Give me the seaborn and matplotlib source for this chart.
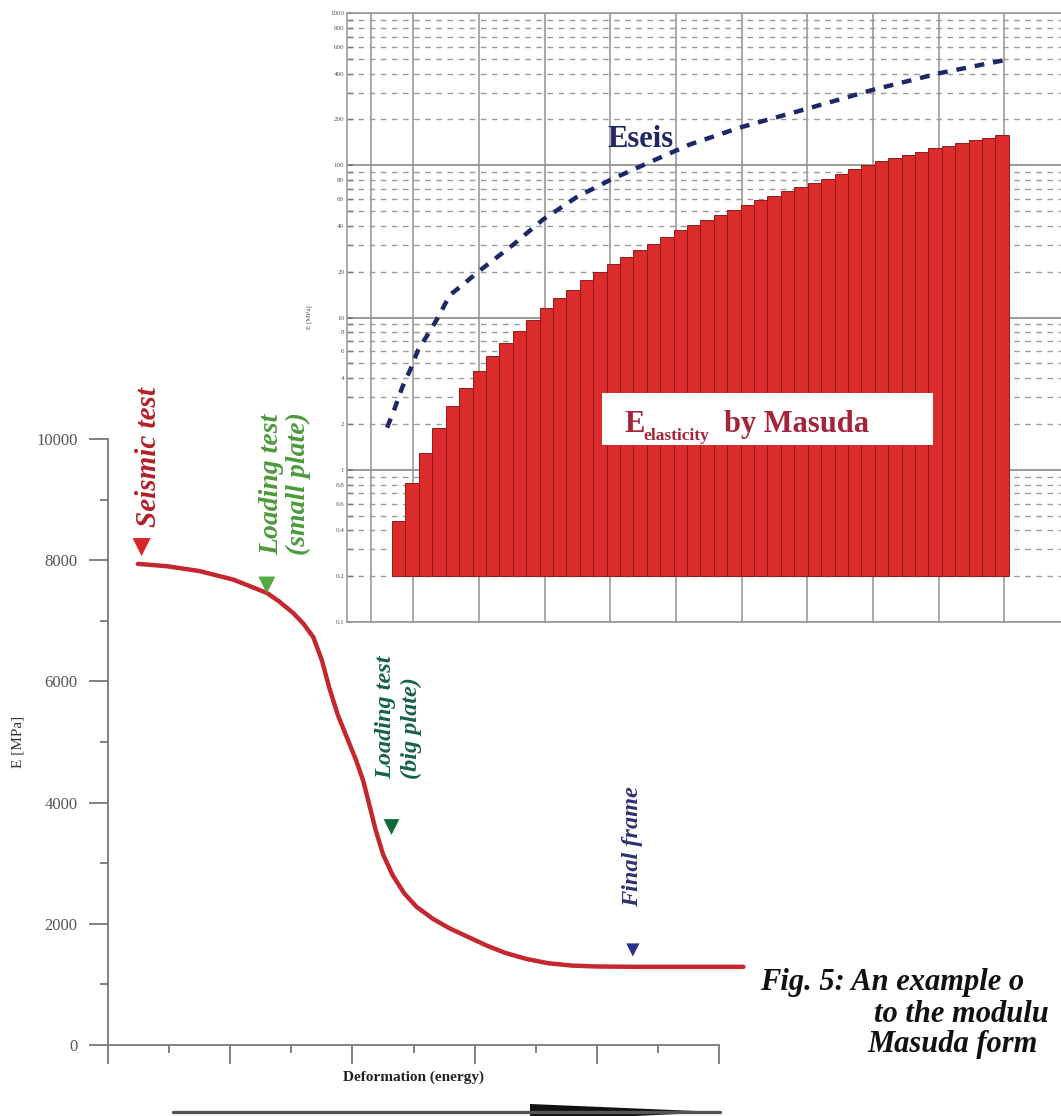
import numpy as np
import matplotlib
matplotlib.use("Agg")
import matplotlib.pyplot as plt
from matplotlib.patches import Polygon, Rectangle
from matplotlib.ticker import FixedLocator, FuncFormatter, NullFormatter
import seaborn as sns

W, H = 1061, 1116

# main curve: modulus E [MPa] against deformation (energy)
curve_x = [0.49, 0.97, 1.5, 2.05, 2.6, 2.8, 3.03, 3.2, 3.36, 3.5, 3.62, 3.76,
           3.92, 4.06, 4.18, 4.28, 4.38, 4.5, 4.66, 4.85, 5.05, 5.32, 5.6, 5.9,
           6.2, 6.5, 6.85, 7.2, 7.6, 8.02, 8.67, 10.4]
curve_e = [7940, 7900, 7820, 7680, 7460, 7320, 7130, 6950, 6730, 6350, 5900, 5450,
           5050, 4700, 4350, 3950, 3550, 3150, 2800, 2500, 2280, 2080, 1920, 1780,
           1640, 1520, 1420, 1350, 1310, 1295, 1290, 1290]

# test markers on the curve
test_names = ["Seismic test", "Loading test\n(small plate)",
              "Loading test\n(big plate)", "Final frame"]
test_x = [0.55, 2.6, 4.64, 8.59]
test_e = [8216, 7590, 3597, 1568]

# inset: E by Masuda (bars) and Eseis (dashed), log scale
masuda_e = [0.46, 0.82, 1.29, 1.89, 2.64, 3.46, 4.48, 5.62, 6.85, 8.2,
            9.56, 11.6, 13.5, 15.2, 17.5, 19.8, 22.3, 24.8, 27.6, 30.2,
            33.6, 37.3, 40.3, 43.5, 47, 51, 55, 59, 63, 68,
            72, 77, 81, 88, 95, 101, 107, 112, 117, 123,
            129, 134, 140, 146, 152, 158]
eseis_x = [-0.87, -0.28, 0.25, 0.84, 1.44, 2.11, 2.93, 3.8, 4.8, 6.06, 8.52, 10.76,
           13.3, 15.76, 18.74, 21.72, 25.45, 30.45, 35.37, 40.36, 45.06]
eseis_e = [1.89, 2.56, 3.46, 4.5, 6.1, 7.6, 10, 14, 16.5, 20.4, 30, 44,
           62, 80, 105, 137, 177, 235, 313, 403, 488]

caption = ["Fig. 5: An example o", "to the modulu", "Masuda form"]

sns.set_theme(style="ticks")
plt.rcParams["font.family"] = ["Liberation Serif", "DejaVu Serif"]


def fx(px):
    return px / W


def fy(py):
    return 1 - py / H


fig = plt.figure(figsize=(W / 100, H / 100), dpi=100)
fig.patch.set_facecolor("white")

# ---- main axes ----
ax = fig.add_axes([fx(108), fy(1045), (719 - 108) / W, (1045 - 439) / H])
ax.patch.set_alpha(0)
sns.lineplot(x=curve_x, y=curve_e, ax=ax, color="#c4272d", lw=3.2, sort=False)
ax.lines[-1].set_clip_on(False)
ax.lines[-1].set_solid_joinstyle("round")
ax.lines[-1].set_solid_capstyle("round")

df_tests = {"x": test_x, "e": test_e, "name": test_names}
pal = dict(zip(test_names, ["#d9262b", "#5aa845", "#0e6b3a", "#27308a"]))
sizes = dict(zip(test_names, [170, 150, 130, 90]))
sns.scatterplot(data=df_tests, x="x", y="e", hue="name", size="name",
                palette=pal, sizes=sizes, marker="v", linewidth=0,
                legend=False, ax=ax, clip_on=False, zorder=5)

text_style = dict(rotation=90, ha="center", va="bottom", fontweight="bold",
                  fontstyle="italic", multialignment="left")
ax.text(0.655, 8547, test_names[0], color="#b3202a", fontsize=21, **text_style)
ax.text(2.9, 8085, test_names[1], color="#4c9a3c", fontsize=20, linespacing=1.1,
        **text_style)
ax.text(4.76, 4389, test_names[2], color="#17604a", fontsize=17.5, linespacing=1.3,
        **text_style)
ax.text(8.59, 2277, test_names[3], color="#2b3270", fontsize=17.5, **text_style)

ax.set_xlim(0, 10)
ax.set_ylim(0, 10000)
ax.set_xticks(range(0, 11, 2))
ax.set_xticks(range(1, 11, 2), minor=True)
ax.set_xticklabels([])
ax.set_yticks(range(0, 10001, 2000))
ax.set_yticks(range(1000, 10000, 2000), minor=True)
ax.set_yticklabels([str(v) for v in range(0, 10001, 2000)])
ax.tick_params(axis="both", which="major", length=14, width=1.3, color="#777777",
               direction="out")
ax.tick_params(axis="both", which="minor", length=6, width=1.3, color="#777777",
               direction="out")
ax.tick_params(axis="y", labelsize=12, labelcolor="#555555", pad=8)
for s in ["top", "right"]:
    ax.spines[s].set_visible(False)
for s in ["left", "bottom"]:
    ax.spines[s].set_color("#777777")
    ax.spines[s].set_linewidth(1.3)
ax.set_xlabel("Deformation (energy)", fontsize=11, fontweight="bold", color="#222222")
ax.xaxis.set_label_coords(0.5, -0.053)
ax.xaxis.label.set_va("center")
ax.set_ylabel("E [MPa]", fontsize=11, color="#333333")
ax.yaxis.set_label_coords(-0.147, 0.5)
ax.yaxis.label.set_va("center")

# arrow under the axis
fig.lines.append(plt.Line2D([fx(173), fx(720)], [fy(1112), fy(1112)],
                            transform=fig.transFigure, color="#555555", lw=2.4))
fig.patches.append(Polygon([(fx(530), fy(1104)), (fx(530), fy(1121)), (fx(720), fy(1112))],
                           closed=True, transform=fig.transFigure,
                           facecolor="#111111", edgecolor="none"))

# ---- inset axes ----
ai = fig.add_axes([fx(347), fy(622), (1061 - 347) / W, (622 - 13) / H], zorder=2)
ai.set_yscale("log")
ai.set_xlim(-3.86, 49.39)
ai.set_ylim(0.1, 1000)
ai.set_axisbelow(True)

xs = np.arange(len(masuda_e))
ai.bar(xs, np.array(masuda_e) - 0.2, bottom=0.2, width=1.0, color="#dc2b2b",
       edgecolor="#8e1c1c", linewidth=0.7, zorder=2)
sns.lineplot(x=eseis_x, y=eseis_e, ax=ai, color="#1f2766", lw=3.2, sort=False,
             linestyle=(0, (2.2, 2.0)), zorder=3)

major = [0.1, 1, 10, 100, 1000]
minor = [m * d for d in [0.1, 1, 10, 100] for m in range(2, 10)]
ai.yaxis.set_major_locator(FixedLocator(major))
ai.yaxis.set_minor_locator(FixedLocator(minor))
ai.yaxis.set_major_formatter(FuncFormatter(lambda v, p: "%g" % v))
ai.yaxis.set_minor_formatter(FuncFormatter(
    lambda v, p: "%g" % v if round(v / 10 ** np.floor(np.log10(v) + 1e-9)) in (2, 4, 6, 8) else ""))
ai.tick_params(axis="y", which="both", labelsize=5, labelcolor="#555555",
               direction="in", length=4, color="#777777", pad=2)
ai.set_xticks(np.r_[-2.07, np.arange(1.07, 49.0, 4.9)])
ai.xaxis.set_major_formatter(NullFormatter())
ai.tick_params(axis="x", length=0)
ai.grid(True, axis="y", which="major", color="#8a8a8a", lw=1.2, ls="-")
ai.grid(True, axis="y", which="minor", color="#9a9a9a", lw=1.0, ls=(0, (4, 4)))
ai.grid(True, axis="x", which="major", color="#9a9a9a", lw=1.2, ls="-")
ai.spines["right"].set_visible(False)
for s in ["top", "left", "bottom"]:
    ai.spines[s].set_color("#999999")
    ai.spines[s].set_linewidth(1.2)
ai.set_ylabel("E [MPa]", fontsize=5, color="#555555")
ai.yaxis.set_label_coords(-0.049, 0.5)

ai.text(15.53, 131, "Eseis", ha="left", va="baseline", fontsize=22,
        fontweight="bold", color="#1f2766", zorder=4)

# label box for Masuda bars
fig.patches.append(Rectangle((fx(602), fy(445)), (933 - 602) / W, (445 - 393) / H,
                             transform=fig.transFigure, facecolor="white",
                             edgecolor="none", zorder=3))
lab = dict(color="#a3243b", fontweight="bold", va="baseline", ha="left", zorder=4)
fig.text(fx(624), fy(432), "E", fontsize=22, **lab)
fig.text(fx(643), fy(440), "elasticity", fontsize=12.5, **lab)
fig.text(fx(724), fy(432), "by Masuda", fontsize=22, **lab)

# caption
cap = dict(fontsize=22, fontweight="bold", fontstyle="italic", color="#111111",
           va="baseline", ha="left")
fig.text(fx(760), fy(990), caption[0], **cap)
fig.text(fx(874), fy(1022), caption[1], **cap)
fig.text(fx(867), fy(1052), caption[2], **cap)

fig.savefig("out.png", dpi=100)
